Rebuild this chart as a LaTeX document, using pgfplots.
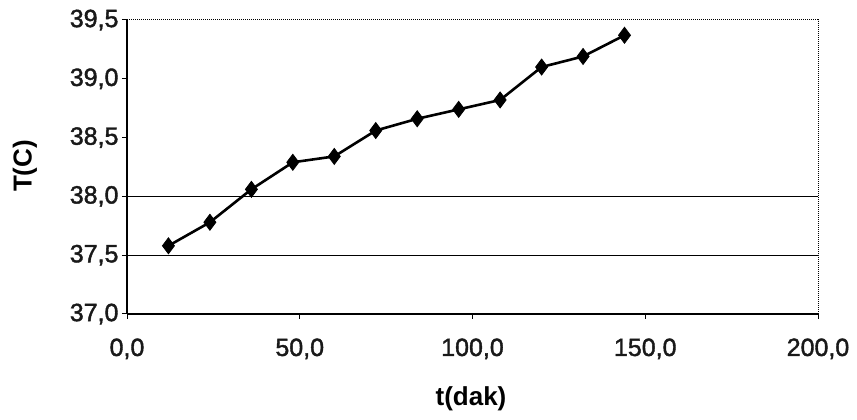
\documentclass[border=0pt]{standalone}
\usepackage{fontspec}
\setmainfont{Liberation Sans}
\newfontfamily\tickfont{Liberation Sans}[FakeBold=1.6]
\usepackage{pgfplots}
\pgfplotsset{compat=1.18}
\begin{document}
\begin{tikzpicture}[x=1pt,y=1pt]
\useasboundingbox (0,0) rectangle (857,420);
\begin{axis}[
  at={(127pt,106pt)}, anchor=south west,
  scale only axis, width=691pt, height=294pt,
  xmin=0, xmax=200, ymin=37, ymax=39.5,
  xtick={0,50,100,150,200},
  ytick={37,37.5,38,38.5,39,39.5},
  axis x line*=bottom, axis y line*=left,
  axis line style={black, line width=1.5pt, -},
  tick align=outside, major tick length=5pt,
  tick style={black, line width=1pt},
  minor tick num=0,
  /pgf/number format/.cd, fixed, fixed zerofill, precision=1, use comma, assume math mode=true,
  /pgfplots/.cd,
  tick label style={font=\tickfont\fontsize{25}{28}\selectfont, text=black!90},
  xticklabel style={yshift=-16pt},
  extra y ticks={37.5,38},
  extra y tick labels={},
  extra y tick style={grid=major, major grid style={black, line width=1.2pt}, major tick length=0pt},
  clip=false,
]
\draw[black, line width=1pt, densely dotted] (rel axis cs:0,1) -- (rel axis cs:1,1) -- (rel axis cs:1,0);
\addplot[black, line width=2.6pt, mark=diamond*, mark size=8pt, mark options={fill=black, line width=0.8pt}]
coordinates {
(12,37.58) (24,37.78) (36,38.06) (48,38.29) (60,38.34) (72,38.56)
(84,38.66) (96,38.74) (108,38.82) (120,39.10) (132,39.19) (144,39.37)
};
\end{axis}
\node[font=\bfseries\fontsize{26}{30}\selectfont, rotate=90] at (25,254) {T(C)};
\node[font=\bfseries\fontsize{26}{30}\selectfont] at (471,21) {t(dak)};
\end{tikzpicture}
\end{document}
